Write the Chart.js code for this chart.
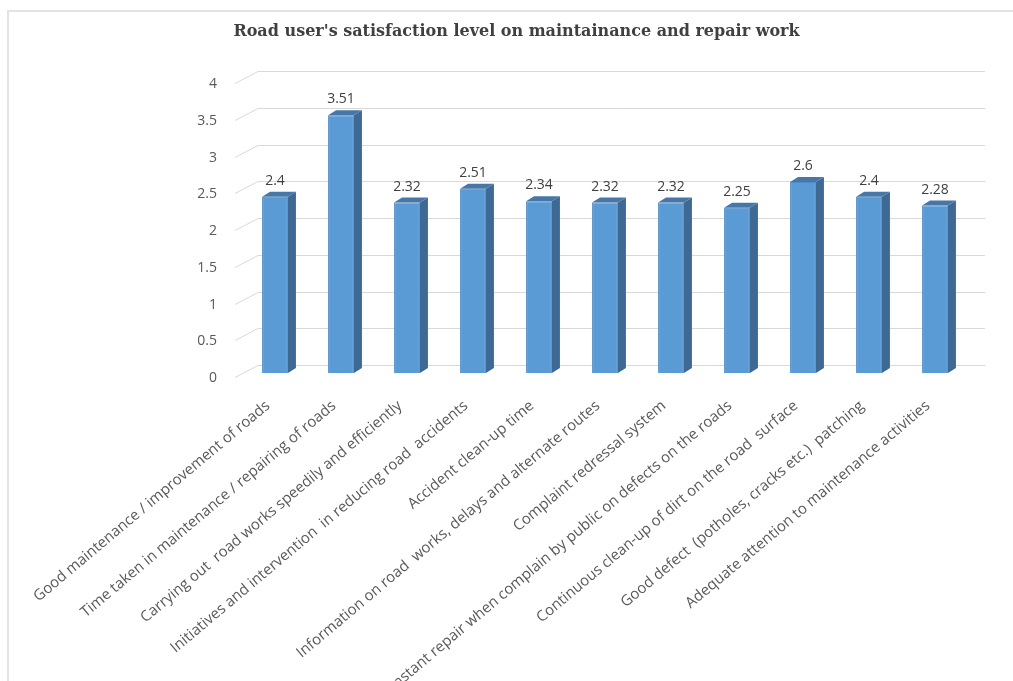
<!DOCTYPE html>
<html>
<head>
<meta charset="utf-8">
<script src="https://cdn.jsdelivr.net/npm/chart.js@4.4.1/dist/chart.umd.min.js"></script>
<style>
  html, body { margin: 0; padding: 0; background: #fff; }
  #wrap { position: relative; width: 1013px; height: 681px; }
</style>
</head>
<body>
<div id="wrap"><canvas id="chart" width="1013" height="681"></canvas></div>
<script>
// ── Data ──────────────────────────────────────────────
const categories = [
    'Good maintenance / improvement of roads',
    'Time taken in maintenance / repairing of roads',
    'Carrying out  road works speedily and efficiently',
    'Initiatives and intervention  in reducing road  accidents',
    'Accident clean-up time',
    'Information on road  works, delays and alternate routes',
    'Complaint redressal system',
    'Instant repair when complain by public on defects on the roads',
    'Continuous clean-up of dirt on the road  surface',
    'Good defect  (potholes, cracks etc.)  patching',
    'Adequate attention to maintenance activities'
];
const satisfaction = [2.4, 3.51, 2.32, 2.51, 2.34, 2.32, 2.32, 2.25, 2.6, 2.4, 2.28];
const yTicks = [0, 0.5, 1, 1.5, 2, 2.5, 3, 3.5, 4];

const chartTitle = "Road user's satisfaction level on maintainance and repair work";

// ── 3D look: side/top faces, back-wall gridlines, value labels ──
const DEPTH_X = 8, DEPTH_Y = 5;       // bar depth
const WALL_X = 23, WALL_Y = 12;       // floor/back-wall depth

const frame3d = {
    id: 'frame3d',
    beforeDraw(chart) {
        const { ctx, chartArea, scales } = chart;
        ctx.save();
        // outer frame (left + top)
        ctx.strokeStyle = '#e3e3e3';
        ctx.lineWidth = 2;
        ctx.beginPath();
        ctx.moveTo(8, 681); ctx.lineTo(8, 11); ctx.lineTo(1013, 11);
        ctx.stroke();
        // gridlines: short diagonal on the side wall, then along the back wall
        ctx.strokeStyle = '#d9d9d9';
        ctx.lineWidth = 1;
        yTicks.forEach(v => {
            const y = Math.round(scales.y.getPixelForValue(v)) + 4.5;
            const x0 = chartArea.left - 7;
            ctx.beginPath();
            ctx.moveTo(x0, y);
            ctx.lineTo(x0 + WALL_X, y - WALL_Y);
            ctx.lineTo(chartArea.right + 17, y - WALL_Y);
            ctx.stroke();
        });
        ctx.restore();
    },
    afterDatasetsDraw(chart) {
        const { ctx } = chart;
        const meta = chart.getDatasetMeta(0);
        ctx.save();
        meta.data.forEach((bar, i) => {
            const { x, y, base, width } = bar.getProps(['x', 'y', 'base', 'width'], true);
            const l = x - width / 2, r = x + width / 2;
            // side face
            ctx.fillStyle = '#3d6994';
            ctx.beginPath();
            ctx.moveTo(r, y); ctx.lineTo(r + DEPTH_X, y - DEPTH_Y);
            ctx.lineTo(r + DEPTH_X, base - DEPTH_Y); ctx.lineTo(r, base);
            ctx.closePath(); ctx.fill();
            // top face
            ctx.fillStyle = '#4677a8';
            ctx.beginPath();
            ctx.moveTo(l, y); ctx.lineTo(l + DEPTH_X, y - DEPTH_Y);
            ctx.lineTo(r + DEPTH_X, y - DEPTH_Y); ctx.lineTo(r, y);
            ctx.closePath(); ctx.fill();
            // value label
            ctx.fillStyle = '#404040';
            ctx.font = '14px "Open Sans", sans-serif';
            ctx.textAlign = 'center';
            ctx.textBaseline = 'middle';
            ctx.fillText(String(satisfaction[i]), x, y - 16);
        });
        ctx.restore();
    }
};

new Chart(document.getElementById('chart'), {
    type: 'bar',
    data: {
        labels: categories,
        datasets: [{
            data: satisfaction,
            backgroundColor: '#5b9bd5',
            borderColor: '#4f8cc4',
            borderWidth: 1,
            categoryPercentage: 0.8,
            barPercentage: 0.49
        }]
    },
    options: {
        responsive: false,
        animation: false,
        layout: { padding: { left: 65, right: 45, top: 0, bottom: 0 } },
        plugins: {
            legend: { display: false },
            tooltip: { enabled: false },
            title: {
                display: true,
                text: chartTitle,
                color: '#404040',
                font: { family: '"DejaVu Serif", serif', size: 16, weight: 'bold' },
                padding: { top: 22, bottom: 38 }
            }
        },
        scales: {
            x: {
                grid: { display: false },
                border: { display: false },
                ticks: {
                    autoSkip: false,
                    maxRotation: 40,
                    minRotation: 40,
                    padding: 16,
                    labelOffset: -7,
                    color: '#595959',
                    font: { family: '"Open Sans", sans-serif', size: 15 }
                },
                afterFit(axis) {
                    axis.height = 308;
                    axis.paddingLeft = 0;
                    axis.paddingRight = 0;
                }
            },
            y: {
                min: 0,
                max: 4,
                grid: { display: false, drawTicks: false },
                border: { display: false },
                afterBuildTicks(axis) {
                    axis.ticks = yTicks.map(v => ({ value: v }));
                },
                ticks: {
                    padding: 25,
                    labelOffset: 5,
                    color: '#595959',
                    font: { family: '"Open Sans", sans-serif', size: 14 },
                    callback: v => String(v)
                },
                afterFit(axis) {
                    axis.width = 177;
                }
            }
        }
    },
    plugins: [frame3d]
});
</script>
</body>
</html>
